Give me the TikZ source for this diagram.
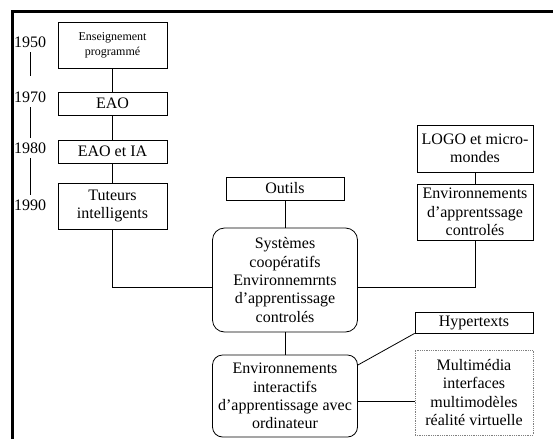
\documentclass[tikz,border=0pt]{standalone}
\usepackage{fontspec}
\setmainfont{Liberation Serif}
\usetikzlibrary{positioning,calc}
\tikzset{box/.style={draw,line width=0.8pt,align=center,inner sep=1pt,font=\fontsize{16}{18.4}\selectfont},rbox/.style={box,rounded corners=12pt},yr/.style={font=\fontsize{16}{18.4}\selectfont,inner sep=0pt,outer sep=5pt},link/.style={line width=0.8pt}}

\begin{document}
\begin{tikzpicture}[x=1pt,y=-1pt]
\useasboundingbox (0,0) rectangle (553,439);
\draw[line width=3pt] (12,439)--(12,11.5)--(553,11.5);
% time line
\node[yr] (y1950) at (30,42){1950};
\node[yr] (y1970) at (30,97){1970};
\node[yr] (y1980) at (30,148){1980};
\node[yr] (y1990) at (30,205){1990};
\draw[link] (y1950.south)--([yshift=11pt]y1970.north);
\draw[link] (y1970)--(y1980);
\draw[link] (y1980)--(y1990);
% left column
\node[box,minimum width=109pt,minimum height=46pt,font=\fontsize{12}{15}\selectfont] (prog) at (112.5,45){Enseignement\\programmé};
\node[box,minimum width=109pt,minimum height=23pt] (eao) at (112.5,103.5){EAO};
\node[box,minimum width=109pt,minimum height=23pt] (eaoia) at (112.5,151.5){EAO et IA};
\node[box,minimum width=109pt,minimum height=46pt] (tuteurs) at (112.5,206){Tuteurs\\intelligents};
\draw[link] (prog)--(eao);
\draw[link] (eao)--(eaoia);
\draw[link] (eaoia)--(tuteurs);
% centre
\node[box,minimum width=118pt,minimum height=23pt] (outils) at (285,188.5){Outils};
\node[rbox,minimum width=145pt,minimum height=104pt] (sys) at (285,280){Systèmes\\coopératifs\\Environnemrnts\\d’apprentissage\\controlés};
\node[rbox,minimum width=145pt,minimum height=82pt,rounded corners=10pt] (envi) at (285,396){Environnements\\interactifs\\d’apprentissage avec\\ordinateur};
\draw[link] (outils)--(sys);
\draw[link] (sys)--(envi);
\draw[link] (tuteurs.south) |- ([yshift=-7pt]sys.west);
% right column
\node[box,minimum width=116pt,minimum height=47pt] (logo) at (475,148.5){LOGO et micro-\\mondes};
\node[box,minimum width=116pt,minimum height=56pt] (envc) at (475,212){Environnements\\d’apprentssage\\controlés};
\node[box,minimum width=118pt,minimum height=21pt] (hyper) at (474,322.5){Hypertexts};
\node[box,draw=gray,densely dotted,minimum width=118pt,minimum height=85pt] (multi) at (474,392.5){Multimédia\\interfaces\\multimodèles\\réalité virtuelle};
\draw[link] (logo)--(envc);
\draw[link] ([yshift=-7pt]sys.east) -| (envc.south);
\draw[link] ([yshift=31pt]envi.east)--(hyper.south west);
\draw[link] ([yshift=-5pt]envi.east)--([yshift=-8.5pt]multi.west);
\end{tikzpicture}
\end{document}
